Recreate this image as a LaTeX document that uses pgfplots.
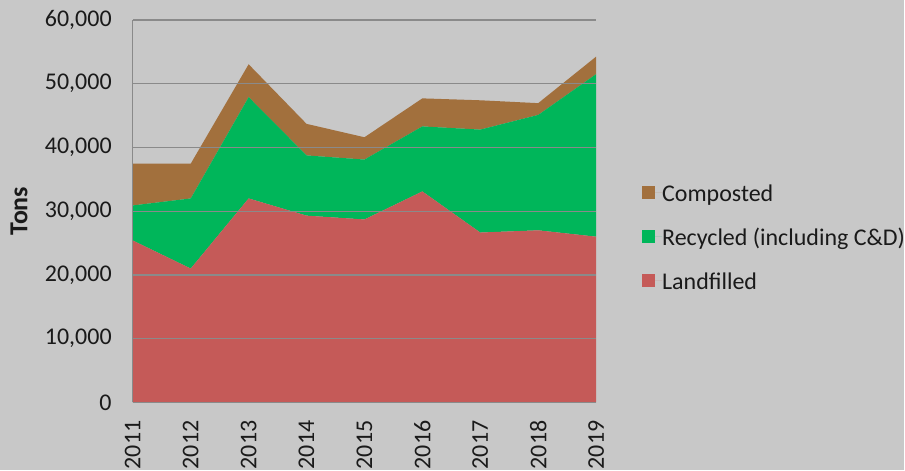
\documentclass[border=0pt]{standalone}
\usepackage{fontspec}
\setmainfont{Carlito}
\usepackage{pgfplots}
\pgfplotsset{compat=1.18}
\definecolor{bg}{HTML}{C8C8C8}
\definecolor{landc}{HTML}{C55A58}
\definecolor{recc}{HTML}{00B65A}
\definecolor{compc}{HTML}{A2703D}
\definecolor{gridc}{HTML}{8A8A8A}
\definecolor{txt}{HTML}{1A1A1A}
\begin{document}
\begin{tikzpicture}[x=1pt,y=1pt]
\fill[bg] (-133,-68) rectangle (772,403);
\begin{axis}[
  at={(0,0)}, anchor=south west,
  scale only axis, width=464pt, height=383pt,
  xmin=2011, xmax=2019, ymin=0, ymax=60000,
  xtick={2011,...,2019},
  ytick={0,10000,...,60000},
  stack plots=y, area style,
  axis x line*=bottom, axis y line*=left,
  axis line style={gridc, line width=1.3pt, -},
  ymajorgrids, grid style={gridc, line width=1.3pt},
  major tick length=0pt,
  font=\fontsize{24}{28}\selectfont,
  /pgf/number format/assume math mode=true,
  scaled y ticks=false,
  y tick label style={/pgf/number format/1000 sep={,}, /pgf/number format/fixed},
  yticklabel style={anchor=east, xshift=-21pt, text=txt, inner sep=0pt},
  x tick label style={/pgf/number format/1000 sep={}},
  xticklabel style={yshift=-18pt, rotate=90, anchor=east, inner sep=0pt, text=txt},
  ylabel={\textbf{Tons}},
  every axis y label/.style={at={(rel axis cs:0,0.5)}, xshift=-114pt, rotate=90, anchor=center, font=\fontsize{26}{30}\selectfont, text=txt},
  reverse legend,
  legend style={at={(1.099,0.433)}, anchor=west, draw=none, fill=none, font=\fontsize{24}{28}\selectfont, text=txt, row sep=27pt, inner sep=0pt, nodes={inner sep=0pt, text depth=0pt}},
  legend cell align=left,
  legend image code/.code={\fill[#1] (0pt,-6.5pt) rectangle (13pt,6.5pt); \path (0pt,0pt) -- (20pt,0pt);},
]
\addplot[draw=none, fill=landc] coordinates {(2011,25400) (2012,21000) (2013,32000) (2014,29300) (2015,28700) (2016,33100) (2017,26650) (2018,27000) (2019,26000)} \closedcycle;
\addlegendentry{Landfilled}
\addplot[draw=none, fill=recc] coordinates {(2011,5500) (2012,11000) (2013,15900) (2014,9450) (2015,9400) (2016,10200) (2017,16150) (2018,18100) (2019,25500)} \closedcycle;
\addlegendentry{Recycled (including C\&D)}
\addplot[draw=none, fill=compc] coordinates {(2011,6550) (2012,5450) (2013,5150) (2014,4950) (2015,3500) (2016,4400) (2017,4600) (2018,1850) (2019,2750)} \closedcycle;
\addlegendentry{Composted}
\end{axis}
\end{tikzpicture}
\end{document}
